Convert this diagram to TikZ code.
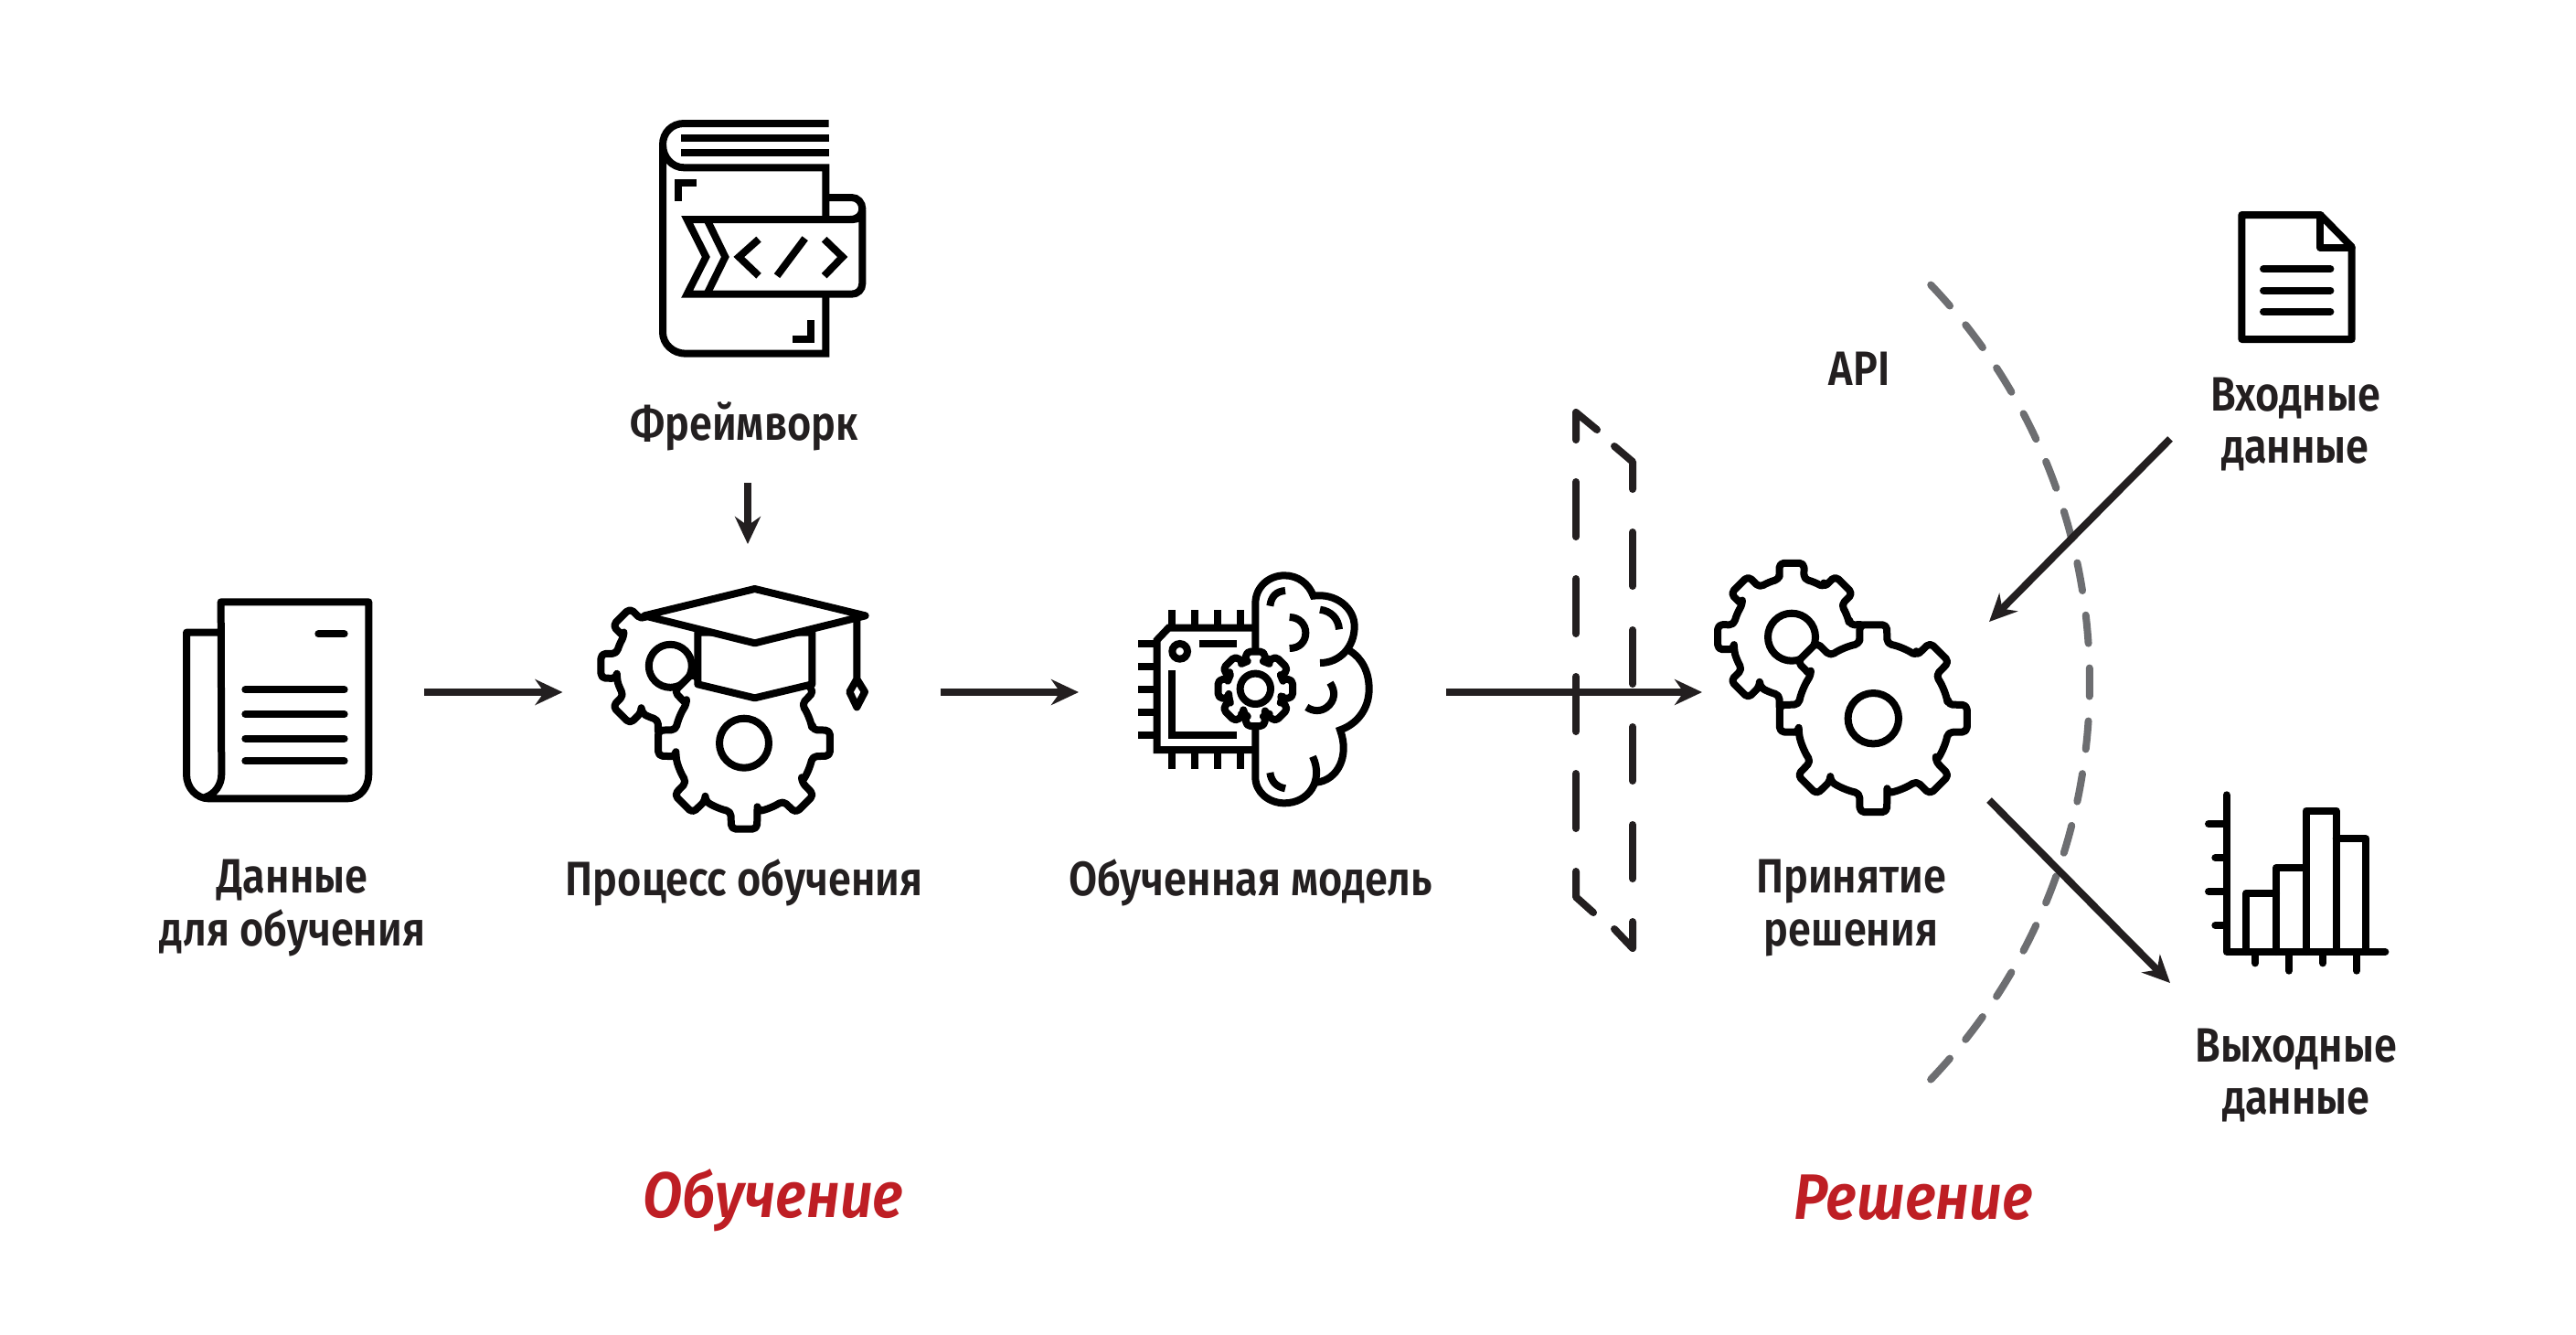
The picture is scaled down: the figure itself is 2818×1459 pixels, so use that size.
\documentclass[tikz,border=0pt]{standalone}
\usepackage{fontspec}
\usepackage{tikz}
\usetikzlibrary{arrows.meta}
\usetikzlibrary{positioning}
\usetikzlibrary{calc}
\newfontfamily\labelfont[FakeStretch=0.855]{Fira Sans SemiBold}
\newfontfamily\stagefont[FakeStretch=0.9]{Fira Sans SemiBold Italic}
\definecolor{inkgray}{HTML}{231F20}
\definecolor{apigray}{HTML}{6D6E71}
\definecolor{stagered}{HTML}{BE1E24}
\newcommand{\gearicon}[7]{%
  \draw[icon, fill=white, rounded corners=0.5mm, shift={(#1,#2)}] (-#6:#4)
    \foreach \a in {0,45,...,315} {
      -- (\a-#6:#4) -- (\a-#5:#3) -- (\a+#5:#3) -- (\a+#6:#4)
      arc[start angle=\a+#6, end angle=\a+45-#6, radius=#4]
    } -- cycle;
  \draw[icon, shift={(#1,#2)}] (0,0) circle[radius=#7];
}
\begin{document}
\begin{tikzpicture}[x=0.1mm, y=-0.1mm,
    icon/.style={line width=0.8mm, black, line join=round, line cap=round},
    sharpicon/.style={line width=0.8mm, black, line join=miter, line cap=butt},
    zoomed/.style={scale=0.33333},
    flow/.style={line width=0.8mm, draw=inkgray, -{Stealth[length=3mm,width=2.8mm]}},
    plane/.style={line width=0.8mm, draw=inkgray, line cap=round, line join=round},
    iconbox/.style={inner sep=0pt, outer sep=0pt, minimum width=#1},
    txt/.style={font=\labelfont\fontsize{15}{16.3}\selectfont, text=inkgray, align=center, inner sep=0pt},
    stage/.style={font=\stagefont\fontsize{20}{24}\selectfont, text=stagered, inner sep=0pt}]
  \useasboundingbox (0,0) rectangle (2818,1459);

  \node[iconbox=32.2mm, minimum height=20mm] (data) at (303,757) {};
  \node[iconbox=41.3mm, minimum height=32.4mm] (learn) at (822,757) {};
  \node[iconbox=40.2mm, minimum height=20mm] (model) at (1381,757) {};
  \node[iconbox=31.4mm, minimum height=19.5mm] (decide) at (2019,777.5) {};
  \coordinate (inport) at (2374,480);
  \coordinate (outport) at (2374,1075);

  % data
  \begin{scope}[shift={(180,630)}, zoomed]
    \draw[icon] (185,185) -- (72,185) -- (72,650) .. controls (72,695) and (105,730) .. (145,730) -- (600,730) .. controls (640,730) and (670,695) .. (670,650) -- (670,85) -- (185,85) -- (187,650) .. controls (187,685) and (165,715) .. (135,725);
    \draw[icon] (505,190) -- (590,190);
    \foreach \y in {373,453,533,607} \draw[icon] (265,\y) -- (590,\y);
  \end{scope}

  % book
  \begin{scope}[shift={(680,110)}, zoomed]
    \draw[sharpicon] (680,75) -- (205,75) .. controls (165,75) and (135,105) .. (135,145) .. controls (135,185) and (165,220) .. (205,220) -- (670,220) -- (670,390);
    \draw[sharpicon] (135,145) -- (135,760) .. controls (135,800) and (170,830) .. (210,830) -- (670,830) -- (670,640);
    \draw[sharpicon] (195,123) -- (680,123) (195,172) -- (680,172);
    \draw[sharpicon] (185,330) -- (185,270) -- (245,270) (622,720) -- (622,783) -- (560,783);
    \draw[sharpicon] (670,318) -- (755,318) .. controls (775,318) and (790,335) .. (790,355) .. controls (790,375) and (775,390) .. (750,390);
    \draw[sharpicon, fill=white] (215,390) -- (760,390) .. controls (775,390) and (790,380) .. (790,360) -- (790,600) .. controls (790,620) and (775,635) .. (755,635) -- (215,635) -- (277,513) -- cycle;
    \draw[sharpicon] (280,390) -- (340,513) -- (280,635);
    \draw[sharpicon] (450,455) -- (385,513) -- (450,575);
    \draw[sharpicon] (602,452) -- (510,575);
    \draw[sharpicon] (665,455) -- (725,513) -- (665,575);
  \end{scope}

  % learning
  \gearicon{733.3}{728.3}{77}{60}{10}{13}{23.5}
  \gearicon{814}{812.7}{95}{76}{8.5}{11}{27}
  \begin{scope}[shift={(620,620)}, zoomed]
    \fill[white] (262,50) rectangle (430,170);
    \draw[icon, fill=white] (430,215) -- (430,385) -- (617,430) -- (805,385) -- (805,215) -- cycle;
    \draw[icon, fill=white] (255,160) -- (617,72) -- (980,160) -- (617,250) -- cycle;
    \draw[icon] (952,165) -- (952,368) -- (978,410) -- (952,460) -- (928,410) -- (952,368);
  \end{scope}

  % model
  \begin{scope}[shift={(1220,610)}, zoomed]
    \draw[sharpicon] (460,230) -- (175,230) -- (137,270) -- (137,630) -- (460,630);
    \foreach \x in {187,261,336,410} \draw[sharpicon] (\x,172) -- (\x,230) (\x,630) -- (\x,692);
    \foreach \y in {283,357,432,507,581} \draw[sharpicon] (75,\y) -- (137,\y);
    \draw[sharpicon] (212,307) circle[radius=25];
    \draw[sharpicon] (275,283) -- (398,283);
    \draw[sharpicon] (187,370) -- (187,581) -- (398,581);
    \draw[sharpicon] (460,310) -- (460,150) .. controls (460,95) and (505,58) .. (555,58) .. controls (600,58) and (635,85) .. (650,125) .. controls (725,115) and (785,165) .. (785,225) .. controls (785,295) and (735,345) .. (672,345);
    \draw[sharpicon] (770,305) .. controls (810,330) and (833,375) .. (833,430) .. controls (833,495) and (795,545) .. (738,565) .. controls (770,650) and (730,730) .. (660,737);
    \draw[sharpicon] (460,560) -- (460,720) .. controls (460,770) and (505,805) .. (555,805) .. controls (635,805) and (685,730) .. (648,652);
    \draw[sharpicon] (508,158) .. controls (512,125) and (530,110) .. (558,108);
    \draw[sharpicon] (572,195) .. controls (605,195) and (625,220) .. (625,246) .. controls (625,275) and (605,297) .. (572,297);
    \draw[sharpicon] (672,170) .. controls (710,175) and (732,200) .. (735,235);
    \draw[sharpicon] (705,410) .. controls (725,440) and (720,470) .. (695,490) .. controls (675,505) and (650,505) .. (628,490);
    \draw[sharpicon] (508,705) .. controls (512,735) and (530,752) .. (558,757);
  \end{scope}
  \gearicon{1373.3}{753.3}{42}{31}{14}{20}{16.7}

  % api plane
  \draw[plane] (1724,481) -- (1724,451) -- (1747,470);
  \draw[plane] (1766,488) -- (1786,505) -- (1786,535);
  \foreach \y in {527,633,740,846} \draw[plane] (1724,\y) -- ++(0,60);
  \foreach \y in {582,689,795,902} \draw[plane] (1786,\y) -- ++(0,59);
  \draw[plane] (1724,953) -- (1724,981) -- (1743,998);
  \draw[plane] (1766,1016) -- (1786,1037) -- (1786,1008);

  % decision
  \gearicon{1960}{696.7}{82}{64.5}{9.5}{12}{26}
  \gearicon{2049.3}{785.7}{103.5}{83}{8.2}{10.5}{27.7}

  % api arc
  \draw[line width=0.8mm, draw=apigray, line cap=round, dash pattern=on 3.1mm off 2.7mm] (1656,746) ++(-43.6:630) arc[start angle=-43.6, end angle=44.1, radius=630];

  % input
  \begin{scope}[shift={(2380,210)}, zoomed]
    \draw[icon] (475,75) -- (217,75) -- (217,483) -- (578,483) -- (578,180) -- cycle;
    \draw[icon] (475,75) -- (475,183) -- (578,183);
    \foreach \y in {253,323,393} \draw[icon] (288,\y) -- (508,\y);
  \end{scope}

  % output
  \begin{scope}[shift={(2380,840)}, zoomed]
    \draw[icon] (167,88) -- (167,603) -- (688,603);
    \foreach \y/\l in {183/108,294/130,405/108,516/130} \draw[icon] (\l,\y) -- (167,\y);
    \foreach \x/\l in {261/640,372/665,483/640,594/665} \draw[icon] (\x,603) -- (\x,\l);
    \draw[icon] (232,603) -- (232,410) -- (330,410);
    \draw[icon] (330,603) -- (330,327) -- (428,327);
    \draw[icon] (428,603) -- (428,140) -- (527,140) -- (527,603);
    \draw[icon] (527,232) -- (625,232) -- (625,603);
  \end{scope}

  \node[txt] (datatext) at (320,993) {Данные\\для обучения};
  \node[txt] (frametext) at (814,466) {Фреймворк};
  \node[txt] (learntext) at (814,965) {Процесс обучения};
  \node[txt] (modeltext) at (1368,965) {Обученная модель};
  \node[txt] (apitext) at (2034,403) {API};
  \node[txt] (decidetext) at (2025,993) {Принятие\\решения};
  \node[txt] (intext) at (2511,464) {Входные\\данные};
  \node[txt] (outtext) at (2512,1176) {Выходные\\данные};
  \node[stage] (trainstage) at (846,1313) {Обучение};
  \node[stage] (usestage) at (2093,1310) {Решение};

  \draw[flow] (data.east) -- (learn.west);
  \draw[flow] (learn.east) -- (model.west);
  \draw[flow] (model.east) -- (model.east -| decide.west);
  \draw[flow, shorten <=3.5mm] (frametext.south -| 818,0) -- (818,0 |- learn.north);
  \draw[flow] (inport) -- (decide.north east);
  \draw[flow] (decide.south east) -- (outport);
\end{tikzpicture}
\end{document}
